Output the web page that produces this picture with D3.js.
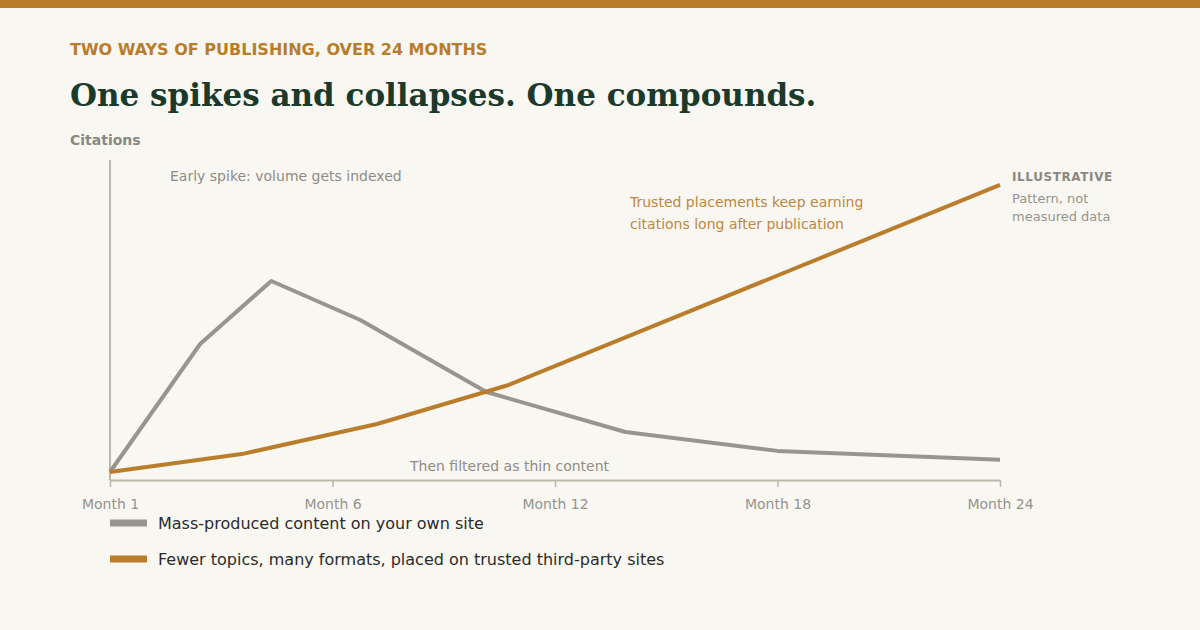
<!DOCTYPE html>
<html>
<head>
<meta charset="utf-8">
<script src="https://cdn.jsdelivr.net/npm/d3@7/dist/d3.min.js"></script>
<style>
  html, body { margin: 0; padding: 0; background: #f9f7f2; }
  svg { display: block; }
</style>
</head>
<body>
<svg id="chart" width="1200" height="630"></svg>
<script>
// ---- data ----
const tickValues = [0, 6, 12, 18, 24];
const tickLabels = ["Month 1", "Month 6", "Month 12", "Month 18", "Month 24"];

const massMonths  = [0, 2.43, 4.35, 6.75, 10.15, 13.9, 18, 24];
const massValues  = [2.5, 42.5, 62.2, 50, 27.5, 15, 9.1, 6.3];

const trustMonths = [0, 3.55, 7.2, 10.75, 13.9, 18, 24];
const trustValues = [2.5, 8.1, 17.5, 29.7, 44.6, 63.9, 92.2];

const seriesNames = [
  "Mass-produced content on your own site",
  "Fewer topics, many formats, placed on trusted third-party sites"
];
const seriesColors = ["#98958f", "#b97d2c"];

// ---- drawing ----
const W = 1200, H = 630;
const svg = d3.select("#chart");
const sans = "DejaVu Sans, sans-serif";

svg.append("rect").attr("width", W).attr("height", H).attr("fill", "#f9f7f2");
svg.append("rect").attr("width", W).attr("height", 8).attr("fill", "#b87d2c");

svg.append("text").attr("x", 70).attr("y", 55)
  .attr("font-family", sans).attr("font-weight", "bold").attr("font-size", 16)
  .attr("fill", "#b87d2c").text("TWO WAYS OF PUBLISHING, OVER 24 MONTHS");

svg.append("text").attr("x", 70).attr("y", 106)
  .attr("font-family", "DejaVu Serif, serif").attr("font-weight", "bold").attr("font-size", 31)
  .attr("fill", "#1b3a2b").text("One spikes and collapses. One compounds.");

svg.append("text").attr("x", 70).attr("y", 145)
  .attr("font-family", sans).attr("font-weight", "bold").attr("font-size", 14)
  .attr("fill", "#8a8882").text("Citations");

const x = d3.scaleLinear().domain([0, 24]).range([110, 1000]);
const y = d3.scaleLinear().domain([0, 100]).range([480, 160]);

// y axis line
svg.append("line").attr("x1", x(0)).attr("x2", x(0)).attr("y1", y(100)).attr("y2", y(0))
  .attr("stroke", "#bdb6aa").attr("stroke-width", 2);

// x axis
const xAxis = d3.axisBottom(x).tickValues(tickValues)
  .tickFormat((d, i) => tickLabels[i]).tickSize(7).tickPadding(12).tickSizeOuter(0);
const gx = svg.append("g").attr("transform", `translate(0,${y(0)})`).call(xAxis);
gx.select(".domain").attr("stroke", "#bdb6aa").attr("stroke-width", 2);
gx.selectAll(".tick line").attr("stroke", "#bdb6aa").attr("stroke-width", 1.5);
gx.selectAll(".tick text").attr("font-family", sans).attr("font-size", 14).attr("fill", "#96938d");

const line = d3.line().x(d => x(d[0])).y(d => y(d[1]));
const massData = massMonths.map((m, i) => [m, massValues[i]]);
const trustData = trustMonths.map((m, i) => [m, trustValues[i]]);

svg.append("path").datum(massData).attr("d", line)
  .attr("fill", "none").attr("stroke", seriesColors[0]).attr("stroke-width", 4)
  .attr("stroke-linejoin", "round");
svg.append("path").datum(trustData).attr("d", line)
  .attr("fill", "none").attr("stroke", seriesColors[1]).attr("stroke-width", 4)
  .attr("stroke-linejoin", "round");

// annotations
svg.append("text").attr("x", 170).attr("y", 181)
  .attr("font-family", sans).attr("font-size", 14).attr("fill", "#8f8c86")
  .text("Early spike: volume gets indexed");
svg.append("text").attr("x", 410).attr("y", 471)
  .attr("font-family", sans).attr("font-size", 14).attr("fill", "#8f8c86")
  .text("Then filtered as thin content");

const tAnn = svg.append("text").attr("font-family", sans).attr("font-size", 14).attr("fill", "#c08640");
tAnn.append("tspan").attr("x", 630).attr("y", 207).text("Trusted placements keep earning");
tAnn.append("tspan").attr("x", 630).attr("y", 229).text("citations long after publication");

svg.append("text").attr("x", 1012).attr("y", 181)
  .attr("font-family", sans).attr("font-weight", "bold").attr("font-size", 12)
  .attr("letter-spacing", 0.6).attr("fill", "#8a8882").text("ILLUSTRATIVE");
const note = svg.append("text").attr("font-family", sans).attr("font-size", 13).attr("fill", "#96938d");
note.append("tspan").attr("x", 1012).attr("y", 203).text("Pattern, not");
note.append("tspan").attr("x", 1012).attr("y", 221).text("measured data");

// legend
const legend = svg.append("g");
seriesNames.forEach((name, i) => {
  const g = legend.append("g").attr("transform", `translate(110,${523 + i * 36})`);
  g.append("rect").attr("x", 0).attr("y", -3.5).attr("width", 37).attr("height", 7).attr("fill", seriesColors[i]);
  g.append("text").attr("x", 48).attr("y", 5.5).attr("font-family", sans).attr("font-size", 16)
    .attr("fill", "#2b2b2b").text(name);
});
</script>
</body>
</html>
